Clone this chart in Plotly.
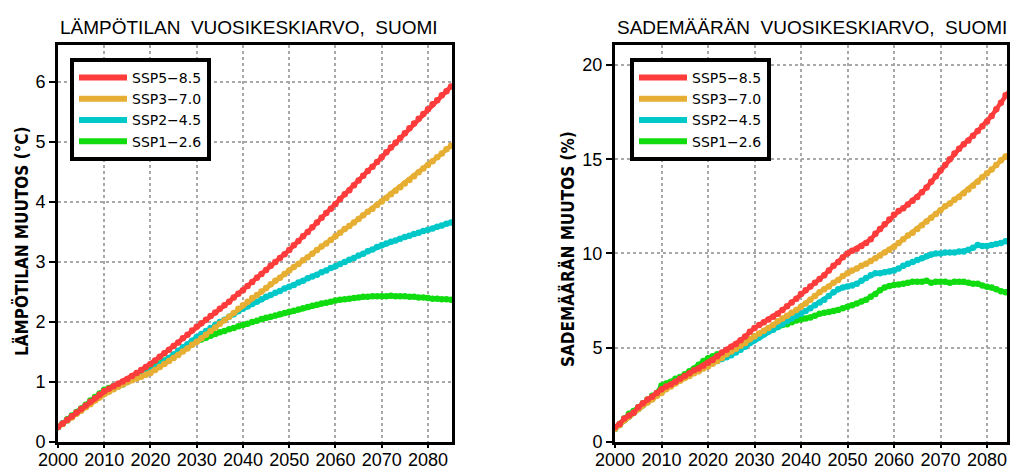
import plotly.graph_objects as go

# ---------------- data ----------------
years = list(range(2000, 2086))

scenarios = ["SSP5−8.5", "SSP3−7.0", "SSP2−4.5", "SSP1−2.6"]
colors = ["#ff3c3c", "#e6ae32", "#00c8c8", "#10dc10"]

temp_ssp585 = [0.25,0.31,0.37,0.43,0.49,0.55,0.61,0.67,0.73,0.79,0.85,
               0.89,0.93,0.97,1.01,1.05,1.10,1.15,1.20,1.25,1.30,
               1.36,1.42,1.48,1.54,1.60,1.66,1.73,1.79,1.86,1.92,
               1.98,2.04,2.10,2.16,2.22,2.28,2.34,2.41,2.47,2.53,
               2.60,2.67,2.74,2.80,2.87,2.94,3.00,3.07,3.13,3.20,
               3.28,3.35,3.43,3.50,3.58,3.66,3.74,3.82,3.89,3.97,
               4.05,4.13,4.20,4.28,4.36,4.44,4.52,4.59,4.67,4.75,
               4.83,4.91,4.99,5.07,5.15,5.23,5.31,5.39,5.47,5.55,
               5.63,5.70,5.78,5.85,5.93]
temp_ssp370 = [0.25,0.30,0.36,0.41,0.47,0.52,0.58,0.63,0.69,0.74,0.80,
               0.84,0.88,0.92,0.96,1.00,1.03,1.06,1.09,1.12,1.15,
               1.20,1.25,1.30,1.35,1.40,1.45,1.51,1.56,1.62,1.67,
               1.73,1.79,1.85,1.91,1.97,2.03,2.09,2.15,2.22,2.28,
               2.34,2.40,2.45,2.51,2.57,2.63,2.69,2.74,2.80,2.86,
               2.92,2.97,3.03,3.08,3.14,3.20,3.26,3.31,3.37,3.43,
               3.49,3.55,3.60,3.66,3.72,3.78,3.84,3.89,3.95,4.01,
               4.07,4.13,4.19,4.25,4.31,4.37,4.43,4.50,4.56,4.62,
               4.68,4.75,4.81,4.88,4.94]
temp_ssp245 = [0.25,0.31,0.36,0.42,0.48,0.53,0.59,0.65,0.71,0.76,0.82,
               0.86,0.89,0.93,0.96,1.00,1.04,1.07,1.11,1.14,1.18,
               1.24,1.29,1.35,1.40,1.46,1.52,1.58,1.63,1.69,1.75,
               1.80,1.85,1.90,1.95,2.00,2.04,2.09,2.13,2.18,2.22,
               2.26,2.30,2.34,2.38,2.42,2.45,2.49,2.52,2.56,2.59,
               2.62,2.66,2.69,2.73,2.76,2.79,2.83,2.86,2.90,2.93,
               2.97,3.00,3.04,3.07,3.11,3.14,3.18,3.21,3.25,3.28,
               3.31,3.34,3.36,3.39,3.42,3.44,3.47,3.49,3.52,3.54,
               3.56,3.59,3.61,3.64,3.66]
temp_ssp126 = [0.25,0.31,0.38,0.44,0.50,0.56,0.62,0.69,0.75,0.81,0.87,
               0.90,0.93,0.96,0.99,1.02,1.06,1.10,1.14,1.18,1.22,
               1.27,1.31,1.36,1.40,1.45,1.50,1.54,1.59,1.63,1.68,
               1.71,1.74,1.77,1.80,1.83,1.85,1.88,1.90,1.93,1.95,
               1.97,2.00,2.02,2.05,2.07,2.09,2.11,2.13,2.15,2.17,
               2.19,2.21,2.23,2.25,2.27,2.29,2.31,2.32,2.34,2.36,
               2.37,2.38,2.39,2.40,2.41,2.42,2.42,2.43,2.43,2.43,
               2.43,2.44,2.43,2.43,2.43,2.42,2.42,2.41,2.41,2.40,
               2.39,2.39,2.38,2.38,2.37]

prec_ssp585 = [0.80,0.95,1.25,1.40,1.55,1.85,
               2.05,2.25,2.40,2.60,2.80,
               2.95,3.05,3.20,3.35,3.50,3.65,3.80,3.90,4.05,4.20,
               4.35,4.55,4.75,4.90,5.05,5.20,5.40,5.60,5.85,6.05,
               6.20,6.35,6.50,6.65,6.80,7.00,7.20,7.40,7.60,7.85,
               8.05,8.25,8.45,8.65,8.85,9.10,9.35,9.55,9.80,10.00,
               10.15,10.25,10.40,10.55,10.75,11.05,11.30,11.55,11.80,12.05,
               12.25,12.40,12.60,12.80,13.00,13.25,13.50,13.80,14.10,14.40,
               14.70,15.00,15.30,15.55,15.80,16.00,16.25,16.50,16.75,17.00,
               17.30,17.65,18.00,18.40,18.70]
prec_ssp370 = [0.70,0.90,1.15,1.35,1.55,1.75,
               1.95,2.10,2.25,2.45,2.60,
               2.80,2.95,3.10,3.25,3.40,3.50,3.65,3.75,3.90,4.00,
               4.15,4.30,4.45,4.65,4.80,4.95,5.10,5.25,5.45,5.60,
               5.75,5.90,6.05,6.20,6.40,6.55,6.70,6.85,7.00,7.18,
               7.35,7.55,7.75,7.95,8.10,8.25,8.45,8.60,8.80,8.95,
               9.10,9.20,9.35,9.45,9.60,9.75,9.90,10.05,10.20,10.36,
               10.55,10.75,10.95,11.10,11.30,11.50,11.70,11.90,12.10,12.30,
               12.50,12.65,12.85,13.00,13.20,13.40,13.60,13.80,14.05,14.25,
               14.45,14.70,14.95,15.15,15.30]
prec_ssp245 = [0.70,0.90,1.15,1.35,1.55,1.75,
               1.95,2.15,2.30,2.50,2.65,
               2.85,3.00,3.15,3.30,3.45,3.55,3.70,3.80,3.95,4.05,
               4.20,4.30,4.40,4.50,4.60,4.75,4.90,5.05,5.25,5.40,
               5.55,5.70,5.85,5.95,6.10,6.25,6.40,6.55,6.70,6.80,
               6.95,7.10,7.25,7.40,7.55,7.75,7.95,8.10,8.20,8.25,
               8.30,8.40,8.55,8.70,8.85,8.95,8.95,9.00,9.05,9.10,
               9.20,9.35,9.45,9.55,9.65,9.75,9.85,9.95,10.00,10.00,
               10.05,10.05,10.05,10.10,10.10,10.20,10.30,10.45,10.40,10.40,
               10.45,10.50,10.55,10.65,10.70]
prec_ssp126 = [0.70,0.95,1.25,1.50,1.65,1.85,
               2.05,2.25,2.45,2.60,3.00,
               3.10,3.20,3.35,3.45,3.60,3.75,3.90,4.10,4.30,4.44,
               4.55,4.65,4.70,4.80,4.90,5.00,5.15,5.30,5.45,5.60,
               5.70,5.80,5.90,6.00,6.10,6.20,6.25,6.35,6.45,6.50,
               6.55,6.60,6.70,6.80,6.85,6.90,6.95,7.00,7.10,7.18,
               7.25,7.35,7.45,7.55,7.70,7.85,8.05,8.20,8.28,8.33,
               8.35,8.40,8.45,8.50,8.50,8.50,8.55,8.45,8.50,8.50,
               8.50,8.45,8.50,8.50,8.50,8.45,8.40,8.40,8.30,8.24,
               8.20,8.10,8.00,7.95,7.89]

temp_series = [temp_ssp585, temp_ssp370, temp_ssp245, temp_ssp126]
prec_series = [prec_ssp585, prec_ssp370, prec_ssp245, prec_ssp126]

x_ticks = list(range(2000, 2090, 10))
temp_ticks = [0, 1, 2, 3, 4, 5, 6]
prec_ticks = [0, 5, 10, 15, 20]

title_left = "LÄMPÖTILAN  VUOSIKESKIARVO,  SUOMI"
title_right = "SADEMÄÄRÄN  VUOSIKESKIARVO,  SUOMI"
ylabel_left = "LÄMPÖTILAN MUUTOS (°C)"
ylabel_right = "SADEMÄÄRÄN MUUTOS (%)"

# ---------------- figure ----------------
W, H = 1011, 469
fig = go.Figure()

# draw order: green first, red last (on top)
for idx in [3, 2, 1, 0]:
    for series, xa, ya in [(temp_series, "x", "y"), (prec_series, "x2", "y2")]:
        fig.add_trace(go.Scatter(
            x=years, y=series[idx], xaxis=xa, yaxis=ya,
            mode="lines+markers",
            line=dict(color=colors[idx], width=4.5),
            marker=dict(color=colors[idx], size=6.5),
            showlegend=False, hoverinfo="skip"))

# legend entries
for idx in range(4):
    for lg in ["legend", "legend2"]:
        fig.add_trace(go.Scatter(
            x=[None], y=[None], xaxis="x" if lg == "legend" else "x2",
            yaxis="y" if lg == "legend" else "y2",
            mode="lines", name=scenarios[idx],
            line=dict(color=colors[idx], width=6),
            legend=lg, showlegend=True))

def px_x(v):
    return v / W

def px_y(v):
    return (H - v) / H

font_main = "Liberation Sans, Arial, sans-serif"
font_cond = "Liberation Sans Narrow, DejaVu Sans Condensed, Roboto Condensed, Arial Narrow, sans-serif"

axis_common = dict(
    showline=True, linecolor="black", linewidth=3, mirror=True,
    showgrid=True, gridcolor="#a8a8a8", gridwidth=2, griddash="dot",
    zeroline=False, ticks="outside", tickwidth=2, tickcolor="black",
    automargin=False,
    tickfont=dict(family=font_main, size=18, color="black"),
)

legend_common = dict(
    xanchor="left", yanchor="top",
    bordercolor="black", borderwidth=4, bgcolor="white",
    font=dict(family="DejaVu Sans, sans-serif", size=14, color="black"),
    tracegroupgap=0, itemwidth=48,
)

fig.update_layout(
    width=W, height=H, autosize=False,
    margin=dict(l=0, r=0, t=0, b=0, autoexpand=False),
    paper_bgcolor="white", plot_bgcolor="white",
    xaxis=dict(domain=[px_x(58), px_x(452)], range=[2000, 2085.2],
               tickvals=x_ticks, anchor="y", ticklen=3, ticklabelstandoff=-4,
               **axis_common),
    yaxis=dict(domain=[px_y(442), px_y(45)], range=[0, 6.62],
               tickvals=temp_ticks, anchor="x", ticklen=6, **axis_common),
    xaxis2=dict(domain=[px_x(615), px_x(1007)], range=[2000, 2084.3],
                tickvals=x_ticks, anchor="y2", ticklen=3, ticklabelstandoff=-4,
                **axis_common),
    yaxis2=dict(domain=[px_y(442), px_y(45)], range=[0, 21.06],
                tickvals=prec_ticks, anchor="x2", ticklen=6, **axis_common),
    legend=dict(x=px_x(70), y=px_y(58), **legend_common),
    legend2=dict(x=px_x(630), y=px_y(58), **legend_common),
    annotations=[
        dict(text=title_left, x=px_x(249), y=px_y(28), xref="paper", yref="paper",
             showarrow=False, xanchor="center", yanchor="middle",
             font=dict(family=font_main, size=19, color="black")),
        dict(text=title_right, x=px_x(812), y=px_y(28), xref="paper", yref="paper",
             showarrow=False, xanchor="center", yanchor="middle",
             font=dict(family=font_main, size=19, color="black")),
        dict(text="<b>" + ylabel_left + "</b>", x=px_x(22), y=px_y(241), xref="paper", yref="paper",
             showarrow=False, xanchor="center", yanchor="middle", textangle=-90,
             font=dict(family=font_cond, size=17, color="black")),
        dict(text="<b>" + ylabel_right + "</b>", x=px_x(568), y=px_y(249), xref="paper", yref="paper",
             showarrow=False, xanchor="center", yanchor="middle", textangle=-90,
             font=dict(family=font_cond, size=17, color="black")),
    ],
)

fig.write_html("out.html", config={"displayModeBar": False},
               post_script="document.body.style.margin='0';")
